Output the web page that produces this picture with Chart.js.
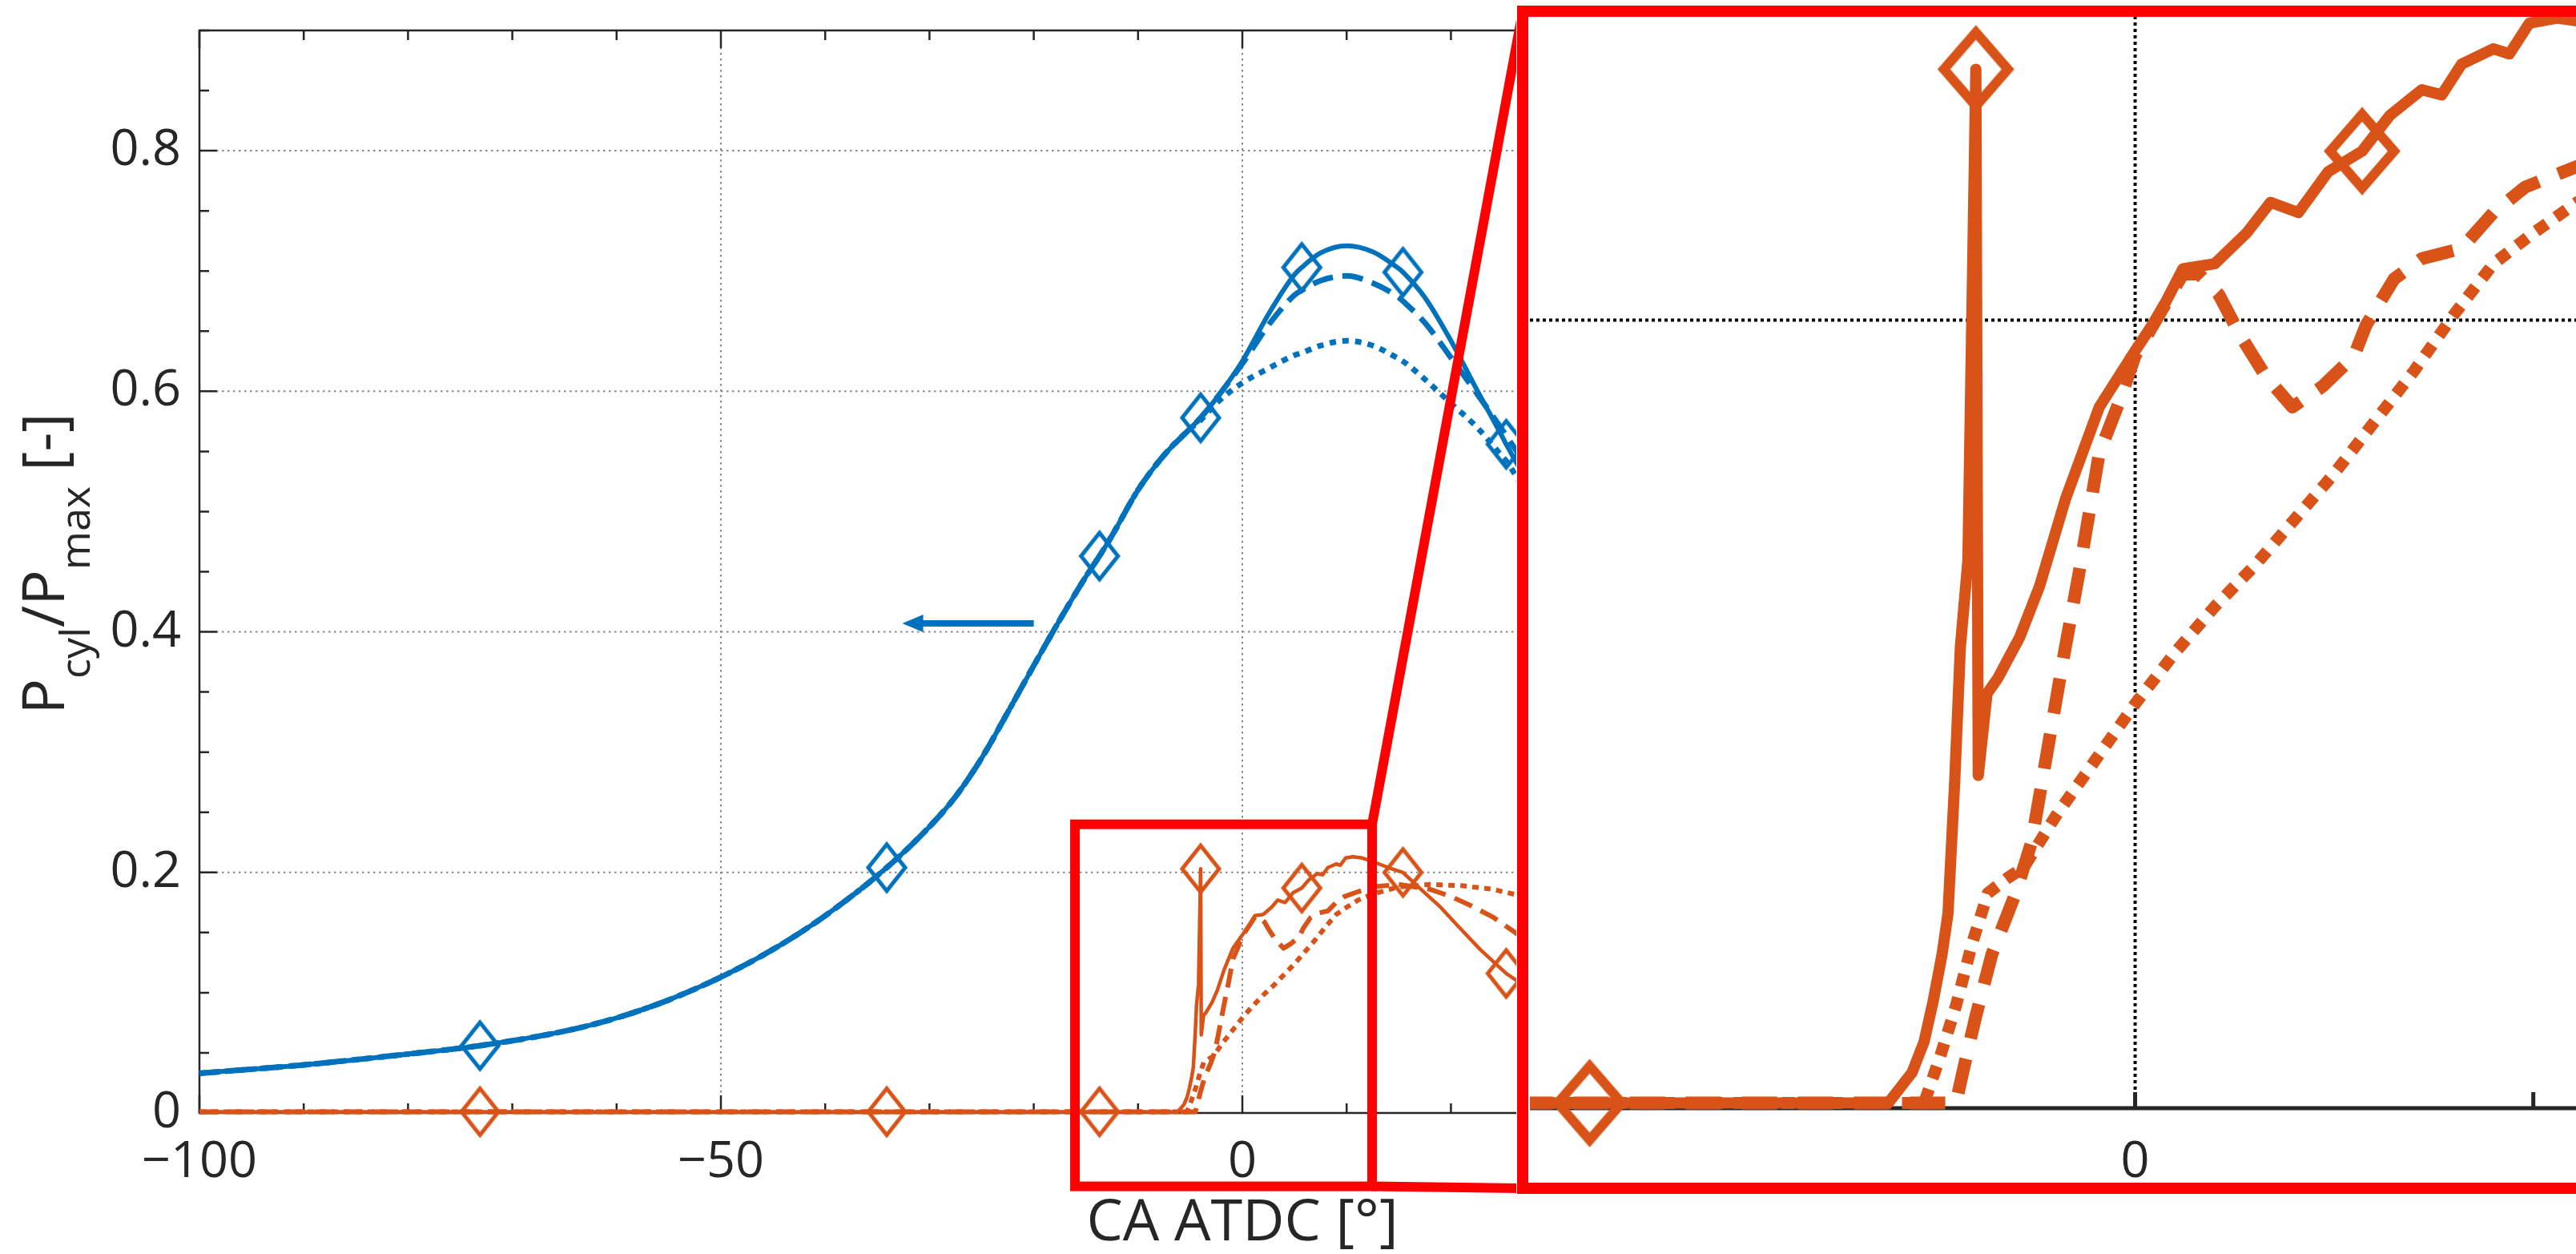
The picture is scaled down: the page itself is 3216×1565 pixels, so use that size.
<!DOCTYPE html>
<html>
<head>
<meta charset="utf-8">
<title>Normalised cylinder pressure</title>
<script src="https://cdn.jsdelivr.net/npm/chart.js@4/dist/chart.umd.min.js"></script>
<style>
  html, body { margin: 0; padding: 0; background: #fff; overflow: hidden; }
  #wrap { position: relative; width: 3216px; height: 1565px; overflow: hidden; }
  #mainChart { position: absolute; left: 0; top: 0; }
  #zoomChart { position: absolute; left: 1893px; top: 2px; }
</style>
</head>
<body>
<div id="wrap">
  <canvas id="mainChart" width="3216" height="1565"></canvas>
  <canvas id="zoomChart" width="1400" height="1500"></canvas>
</div>
<script>
// crank angle grid shared by the three pressure traces
const caPressure = [-100, -90, -80, -73.1, -65, -60, -55, -50, -45, -40, -34.1, -30, -27.5, -25, -22.5, -20, -17.5, -15, -13.7, -12.5,
  -10, -7.5, -5, -4, -2.5, 0, 2.5, 5, 5.7, 7.5, 10, 12.5, 15, 15.4, 17.5, 20, 22.5, 25, 25.3, 27.5, 30];
const pressureSolid = [0.033, 0.040, 0.049, 0.056, 0.068, 0.079, 0.094, 0.113, 0.136, 0.164, 0.204, 0.238, 0.263, 0.295, 0.333, 0.372, 0.410, 0.446, 0.463, 0.480,
  0.518, 0.547, 0.569, 0.578, 0.594, 0.625, 0.664, 0.697, 0.703, 0.715, 0.721, 0.716, 0.702, 0.699, 0.678, 0.642, 0.601, 0.561, 0.556, 0.522, 0.485];
const pressureDashed = [0.033, 0.040, 0.049, 0.056, 0.068, 0.079, 0.094, 0.113, 0.136, 0.164, 0.204, 0.238, 0.263, 0.295, 0.333, 0.372, 0.410, 0.446, 0.463, 0.480,
  0.518, 0.547, 0.569, 0.578, 0.594, 0.623, 0.655, 0.680, 0.684, 0.692, 0.696, 0.690, 0.678, 0.675, 0.657, 0.628, 0.598, 0.567, 0.563, 0.535, 0.502];
const pressureDotted = [0.033, 0.040, 0.049, 0.056, 0.068, 0.079, 0.094, 0.113, 0.136, 0.164, 0.204, 0.238, 0.263, 0.295, 0.333, 0.372, 0.410, 0.446, 0.463, 0.480,
  0.518, 0.547, 0.569, 0.576, 0.590, 0.607, 0.619, 0.630, 0.632, 0.638, 0.642, 0.638, 0.627, 0.625, 0.610, 0.590, 0.570, 0.545, 0.542, 0.512, 0.480];

// heat release traces (same normalised axis)
const caHrrSolid = [-100, -73.1, -34.1, -13.7, -6.2, -5.9, -5.6, -5.3, -5.07, -4.85, -4.7, -4.53, -4.39, -4.2, -4, -3.94, -3.72, -3.45, -2.9, -2.4,
  -1.75, -0.9, 0, 0.6, 1.2, 2, 2.8, 3.4, 4.1, 4.85, 5.7, 6.4, 7.2, 7.7, 8.2, 9, 9.4, 9.9, 10.6, 11.5,
  12.5, 14, 15.4, 17, 18.9, 20.5, 22.8, 25.3, 27, 30];
const hrrSolid = [0.001, 0.001, 0.001, 0.001, 0.001, 0.004, 0.007, 0.013, 0.021, 0.030, 0.038, 0.064, 0.090, 0.107, 0.203, 0.065, 0.081, 0.084, 0.092, 0.102,
  0.119, 0.137, 0.148, 0.155, 0.164, 0.165, 0.171, 0.177, 0.175, 0.183, 0.187, 0.194, 0.199, 0.198, 0.204, 0.207, 0.206, 0.212, 0.213, 0.212,
  0.209, 0.204, 0.200, 0.187, 0.172, 0.157, 0.136, 0.116, 0.106, 0.090];
const caHrrDashed = [-100, -4.5, -4.3, -4, -3.6, -3, -2.6, -2.2, -1.8, -1.4, -0.9, -0.4, 0, 0.6, 1.2, 1.6, 2.1, 2.64, 3.28, 3.95,
  4.7, 5.5, 5.8, 6.5, 7.2, 8.2, 9, 9.8, 11.1, 12.5, 15, 18, 20, 22, 24, 26, 28, 30];
const hrrDashed = [0.001, 0.001, 0.008, 0.018, 0.030, 0.042, 0.052, 0.070, 0.088, 0.105, 0.128, 0.138, 0.147, 0.155, 0.163, 0.163, 0.159, 0.151, 0.143, 0.137,
  0.141, 0.147, 0.153, 0.162, 0.166, 0.168, 0.175, 0.180, 0.184, 0.188, 0.190, 0.186, 0.180, 0.172, 0.163, 0.151, 0.138, 0.125];
const caHrrDotted = [-100, -5.3, -4.9, -4.5, -4.1, -3.7, -3.2, -2.8, -2, -1, 0, 1, 2, 3, 4, 5, 6, 7, 8, 9,
  10, 11.1, 12.5, 15, 18, 21, 24, 27, 30];
const hrrDotted = [0.001, 0.001, 0.010, 0.020, 0.032, 0.042, 0.045, 0.047, 0.057, 0.068, 0.079, 0.089, 0.098, 0.106, 0.115, 0.124, 0.134, 0.144, 0.155, 0.165,
  0.171, 0.177, 0.182, 0.188, 0.190, 0.189, 0.186, 0.180, 0.170];

// diamonds sit on these samples of the solid traces
const markerCA = [-73.1, -34.1, -13.7, -4, 5.7, 15.4, 25.3];

const xTickLabels = [-100, -50, 0, 50, 100];
const yTickLabels = [0, 0.2, 0.4, 0.6, 0.8];
const zoomXTickLabels = [0];
const zoomXTickMarks = [0, 10];
const zoomGridY = 0.154;

const BLUE = '#0072BD';
const ORANGE = '#D95319';
const INK = '#262626';
const RED = '#FF0000';
const FONT = "'Open Sans', 'DejaVu Sans', sans-serif";
const TICK_FONT = 63;

// zoomed window in data units, and where the zoom panel sits on the page
const zoomBox = { x0: -16.05, x1: 12.44, y0: -0.061, y1: 0.24 };
const zoomPanel = { left: 1893, top: 2, frameX: 8, frameTop: 12, frameBottom: 1481 };
const arrow = { from: -20, to: -32.6, y: 0.407 };

Chart.defaults.font.family = FONT;

const pts = (xs, ys) => xs.map((x, i) => ({ x, y: ys[i] }));

function diamond(w, h, lw, color) {
  const c = document.createElement('canvas');
  c.width = Math.ceil(w + lw * 2);
  c.height = Math.ceil(h + lw * 2);
  const g = c.getContext('2d');
  const cx = c.width / 2, cy = c.height / 2;
  g.strokeStyle = color;
  g.lineWidth = lw;
  g.beginPath();
  g.moveTo(cx, cy - h / 2);
  g.lineTo(cx + w / 2, cy);
  g.lineTo(cx, cy + h / 2);
  g.lineTo(cx - w / 2, cy);
  g.closePath();
  g.stroke();
  return c;
}

function trace(xs, ys, color, width, dash, marker, extra) {
  return Object.assign({
    data: pts(xs, ys),
    showLine: true,
    borderColor: color,
    backgroundColor: color,
    borderWidth: width,
    borderDash: dash,
    borderCapStyle: 'butt',
    borderJoinStyle: 'round',
    tension: 0,
    pointStyle: marker || 'circle',
    pointRadius: ctx => (marker && ctx.raw && markerCA.includes(ctx.raw.x)) ? 4 : 0,
    pointHoverRadius: 0,
    fill: false,
    clip: false
  }, extra || {});
}

const smooth = { cubicInterpolationMode: 'monotone' };
const blueMark = diamond(46, 58, 5, BLUE);
const orangeMark = diamond(46, 58, 5, ORANGE);
const orangeMarkBig = diamond(80, 92, 12, ORANGE);

const fmtCA = v => String(v).replace('-', '\u2212');

// no extra room for the end labels, the plot box is placed by hand
const noEdgePadding = s => { s.paddingTop = 0; s.paddingBottom = 0; s.paddingLeft = 0; s.paddingRight = 0; };

const mainDecor = {
  id: 'mainDecor',
  beforeDatasetsDraw(chart) {
    const { ctx, chartArea: a, scales: { x, y } } = chart;
    ctx.save();
    // dotted grid at the labelled ticks
    ctx.strokeStyle = 'rgba(38,38,38,0.55)';
    ctx.lineWidth = 2;
    ctx.setLineDash([2.5, 4.5]);
    ctx.beginPath();
    xTickLabels.forEach(v => {
      const px = x.getPixelForValue(v);
      if (px > a.left + 2 && px < a.right - 2) { ctx.moveTo(px, a.top); ctx.lineTo(px, a.bottom); }
    });
    yTickLabels.forEach(v => {
      const py = y.getPixelForValue(v);
      if (py > a.top + 2 && py < a.bottom - 2) { ctx.moveTo(a.left, py); ctx.lineTo(a.right, py); }
    });
    ctx.stroke();
    // axes box with inward ticks
    ctx.setLineDash([]);
    ctx.strokeStyle = INK;
    ctx.lineWidth = 2.5;
    ctx.strokeRect(a.left, a.top, a.right - a.left, a.bottom - a.top);
    ctx.beginPath();
    for (let v = x.min; v <= x.max + 1e-9; v += 10) {
      const px = x.getPixelForValue(v);
      const len = xTickLabels.includes(Math.round(v)) ? 22 : 12;
      ctx.moveTo(px, a.bottom); ctx.lineTo(px, a.bottom - len);
      ctx.moveTo(px, a.top); ctx.lineTo(px, a.top + len);
    }
    for (let i = 0; i * 0.05 <= y.max + 1e-9; i++) {
      const py = y.getPixelForValue(i * 0.05);
      const len = i % 4 === 0 ? 22 : 12;
      ctx.moveTo(a.left, py); ctx.lineTo(a.left + len, py);
      ctx.moveTo(a.right, py); ctx.lineTo(a.right - len, py);
    }
    ctx.stroke();
    ctx.restore();
  },
  afterDraw(chart) {
    const { ctx, chartArea: a, scales: { x, y } } = chart;
    ctx.save();

    // arrow pointing at the left axis
    const ax0 = x.getPixelForValue(arrow.from), ax1 = x.getPixelForValue(arrow.to), ay = y.getPixelForValue(arrow.y);
    ctx.strokeStyle = BLUE;
    ctx.fillStyle = BLUE;
    ctx.lineWidth = 8;
    ctx.beginPath();
    ctx.moveTo(ax0, ay); ctx.lineTo(ax1 + 20, ay);
    ctx.stroke();
    ctx.beginPath();
    ctx.moveTo(ax1, ay); ctx.lineTo(ax1 + 26, ay - 11); ctx.lineTo(ax1 + 26, ay + 11); ctx.closePath();
    ctx.fill();

    // y axis title with subscripts
    const big = 74, small = 52, shift = 32;
    const parts = [
      { t: 'P', s: big, d: 0 }, { t: 'cyl', s: small, d: shift },
      { t: '/P', s: big, d: 0 }, { t: 'max', s: small, d: shift },
      { t: ' [-]', s: big, d: 0 }
    ];
    let total = 0;
    parts.forEach(p => { ctx.font = p.s + 'px ' + FONT; p.w = ctx.measureText(p.t).width; total += p.w; });
    ctx.translate(80, (a.top + a.bottom) / 2 - 10);
    ctx.rotate(-Math.PI / 2);
    ctx.fillStyle = INK;
    ctx.textBaseline = 'alphabetic';
    let cx = -total / 2;
    parts.forEach(p => { ctx.font = p.s + 'px ' + FONT; ctx.fillText(p.t, cx, p.d); cx += p.w; });
    ctx.setTransform(1, 0, 0, 1, 0, 0);

    // zoom window and its leader lines to the panel
    const bx0 = x.getPixelForValue(zoomBox.x0), bx1 = x.getPixelForValue(zoomBox.x1);
    const by0 = y.getPixelForValue(zoomBox.y0), by1 = y.getPixelForValue(zoomBox.y1);
    const px = zoomPanel.left + zoomPanel.frameX;
    ctx.strokeStyle = RED;
    ctx.lineWidth = 12;
    ctx.lineJoin = 'miter';
    ctx.strokeRect(bx0, by1, bx1 - bx0, by0 - by1);
    ctx.beginPath();
    ctx.moveTo(bx1, by1); ctx.lineTo(px, zoomPanel.top + zoomPanel.frameTop);
    ctx.moveTo(bx1, by0); ctx.lineTo(px, zoomPanel.top + zoomPanel.frameBottom);
    ctx.stroke();
    ctx.restore();
  }
};

new Chart(document.getElementById('mainChart'), {
  type: 'scatter',
  data: {
    datasets: [
      trace(caHrrSolid, hrrSolid, ORANGE, 4.5, [], orangeMark),
      trace(caHrrDashed, hrrDashed, ORANGE, 6, [24, 12]),
      trace(caHrrDotted, hrrDotted, ORANGE, 6, [8, 7]),
      trace(caPressure, pressureSolid, BLUE, 6, [], blueMark, smooth),
      trace(caPressure, pressureDashed, BLUE, 7, [26, 12], null, smooth),
      trace(caPressure, pressureDotted, BLUE, 7, [8, 8], null, smooth)
    ]
  },
  options: {
    responsive: false,
    animation: false,
    events: [],
    layout: { padding: { left: 0, top: 38, right: 363, bottom: 0 } },
    plugins: { legend: { display: false }, tooltip: { enabled: false } },
    scales: {
      x: {
        type: 'linear', min: -100, max: 100,
        afterBuildTicks: s => { s.ticks = xTickLabels.map(v => ({ value: v })); },
        afterFit: s => { s.height = 176; noEdgePadding(s); },
        grid: { display: false, drawTicks: false },
        border: { display: false },
        ticks: { font: { size: TICK_FONT }, color: INK, padding: 24, maxRotation: 0, autoSkip: false, callback: v => fmtCA(v) },
        title: { display: true, text: 'CA ATDC [°]', font: { size: 72, lineHeight: 1 }, color: INK, padding: { top: 0, bottom: 2 } }
      },
      y: {
        type: 'linear', min: 0, max: 0.9,
        afterBuildTicks: s => { s.ticks = yTickLabels.map(v => ({ value: v })); },
        afterFit: s => { s.width = 249; noEdgePadding(s); },
        grid: { display: false, drawTicks: false },
        border: { display: false },
        ticks: { font: { size: TICK_FONT }, color: INK, padding: 23, callback: v => v === 0 ? '0' : v.toFixed(1) }
      }
    }
  },
  plugins: [mainDecor]
});

const zoomDecor = {
  id: 'zoomDecor',
  beforeDraw(chart) {
    const { ctx, width, height } = chart;
    ctx.save();
    ctx.fillStyle = '#fff';
    ctx.fillRect(0, 0, width, height);
    ctx.restore();
  },
  beforeDatasetsDraw(chart) {
    const { ctx, chartArea: a, scales: { x, y } } = chart;
    ctx.save();
    ctx.strokeStyle = '#000';
    ctx.lineWidth = 4;
    ctx.setLineDash([4, 4]);
    ctx.beginPath();
    zoomXTickLabels.forEach(v => { const px = x.getPixelForValue(v); ctx.moveTo(px, a.top); ctx.lineTo(px, a.bottom); });
    const gy = y.getPixelForValue(zoomGridY);
    ctx.moveTo(a.left, gy); ctx.lineTo(a.right, gy);
    ctx.stroke();
    ctx.setLineDash([]);
    ctx.strokeStyle = INK;
    ctx.lineWidth = 5;
    ctx.beginPath();
    ctx.moveTo(a.left, a.bottom); ctx.lineTo(a.right, a.bottom);
    zoomXTickMarks.forEach(v => { const px = x.getPixelForValue(v); ctx.moveTo(px, a.bottom); ctx.lineTo(px, a.bottom - 20); });
    ctx.stroke();
    ctx.restore();
  },
  afterDraw(chart) {
    const { ctx, width } = chart;
    ctx.save();
    ctx.strokeStyle = RED;
    ctx.lineWidth = 14;
    ctx.strokeRect(zoomPanel.frameX, zoomPanel.frameTop, width + 40, zoomPanel.frameBottom - zoomPanel.frameTop);
    ctx.restore();
  }
};

const zoomClip = { left: 0, top: 12, right: 0, bottom: 70 };

new Chart(document.getElementById('zoomChart'), {
  type: 'scatter',
  data: {
    datasets: [
      trace(caHrrSolid, hrrSolid, ORANGE, 14, [], orangeMarkBig, { clip: zoomClip }),
      trace(caHrrDashed, hrrDashed, ORANGE, 16, [44, 26], null, { clip: zoomClip }),
      trace(caHrrDotted, hrrDotted, ORANGE, 15, [16, 14], null, { clip: zoomClip })
    ]
  },
  options: {
    responsive: false,
    animation: false,
    events: [],
    layout: { padding: { left: 17, top: 18, right: 11, bottom: 0 } },
    plugins: { legend: { display: false }, tooltip: { enabled: false } },
    scales: {
      x: {
        type: 'linear', min: -15.2, max: 12.4,
        afterBuildTicks: s => { s.ticks = zoomXTickLabels.map(v => ({ value: v })); },
        afterFit: s => { s.height = 119; noEdgePadding(s); },
        grid: { display: false, drawTicks: false },
        border: { display: false },
        ticks: { font: { size: TICK_FONT }, color: INK, padding: 30, maxRotation: 0, callback: v => fmtCA(v) }
      },
      y: { display: false, min: 0, max: 0.2134 }
    }
  },
  plugins: [zoomDecor]
});
</script>
</body>
</html>
